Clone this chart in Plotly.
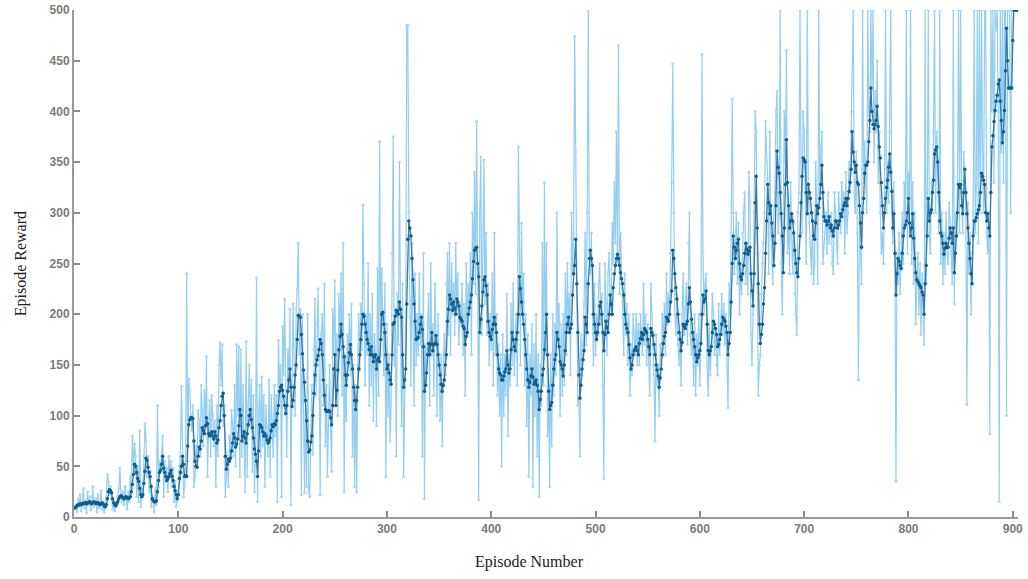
import plotly.graph_objects as go

# Episode reward (raw), one value per episode, read/
episode_reward = [
    8,12,5,18,10,22,6,15,28,9,
    16,4,25,12,20,7,14,30,10,13,
    18,5,22,9,15,26,8,12,5,11,
    20,42,35,22,30,18,8,12,6,15,
    10,20,28,48,22,15,25,12,30,18,
    8,25,15,40,28,80,45,72,60,20,
    50,15,85,10,30,20,60,92,75,40,
    60,25,45,10,15,20,5,28,12,110,
    30,55,45,60,80,20,55,35,48,25,
    60,40,55,30,48,15,35,10,20,25,
    45,60,129,50,20,30,45,240,55,136,
    125,100,85,110,30,40,70,50,105,95,
    60,130,100,70,125,90,158,40,85,115,
    60,120,100,70,95,30,110,60,150,172,
    130,170,90,110,20,45,60,30,80,60,
    105,90,60,130,50,170,100,168,40,165,
    60,130,85,25,173,40,110,150,90,135,
    45,120,25,60,236,15,100,130,60,138,
    70,120,30,110,85,60,135,40,120,95,
    60,130,80,120,15,174,130,150,20,188,
    140,215,100,60,165,130,205,12,130,210,
    150,100,205,225,270,160,205,22,200,120,
    24,115,30,200,25,20,90,130,62,165,
    215,120,190,225,150,22,180,200,110,230,
    70,130,40,100,150,90,45,205,160,233,
    130,180,100,220,170,240,120,270,25,160,
    95,180,150,200,140,210,60,150,30,130,
    25,150,200,145,210,165,308,230,130,200,
    160,250,110,200,130,220,95,180,160,90,
    245,120,370,160,245,200,140,230,40,190,
    100,160,75,110,260,375,150,200,60,220,
    170,350,200,90,230,40,110,160,485,485,
    300,210,130,270,190,110,240,150,200,160,
    240,170,200,60,260,18,170,130,190,220,
    110,250,160,190,120,230,180,100,200,130,
    95,160,70,150,180,140,230,260,180,270,
    160,250,200,230,180,270,200,240,170,210,
    190,230,160,210,120,250,180,230,200,260,
    160,300,230,340,220,390,240,17,300,355,
    180,260,352,210,280,180,230,150,200,165,
    240,130,280,160,200,120,170,100,160,50,
    180,100,160,120,220,80,160,130,210,150,
    230,140,180,200,130,365,280,150,290,200,
    240,130,200,90,180,40,160,120,190,30,
    170,100,200,60,160,20,150,110,270,130,
    330,160,270,80,130,30,160,70,200,120,
    190,140,300,170,210,100,190,120,200,130,
    240,160,250,190,220,140,300,240,280,474,
    360,250,110,120,60,180,140,170,210,280,
    170,300,500,260,240,280,200,150,230,160,
    200,180,230,250,190,220,130,38,250,210,
    160,240,260,220,200,290,250,330,270,380,
    250,465,220,280,230,200,160,240,180,210,
    150,200,120,170,140,200,180,160,200,150,
    190,150,200,180,160,230,170,200,150,190,
    160,120,230,200,150,140,75,180,130,150,
    100,170,150,200,170,210,160,240,190,220,
    200,260,330,447,300,200,180,220,170,150,
    180,130,200,240,180,200,230,170,270,300,
    180,160,190,130,200,120,180,150,200,130,
    180,456,260,200,230,240,150,120,190,140,
    170,220,200,160,180,150,140,210,160,190,
    220,180,210,170,200,150,108,230,200,280,
    412,300,240,260,300,230,290,200,250,220,
    280,300,320,230,270,220,340,310,180,150,
    200,300,400,380,260,120,150,160,220,250,
    270,300,390,350,330,240,380,280,250,230,
    300,320,400,420,280,300,500,250,200,320,
    400,350,460,260,300,240,330,280,240,290,
    220,200,180,300,320,500,350,280,400,380,
    320,250,500,330,290,270,240,300,230,250,
    350,300,230,500,320,360,380,250,270,280,
    300,260,320,270,280,300,250,240,320,300,
    270,250,320,300,280,330,300,320,260,340,
    280,300,350,320,380,400,500,320,300,360,
    280,135,300,270,230,500,330,370,320,300,
    500,400,380,500,420,500,350,420,380,450,
    330,380,300,260,280,250,320,500,300,350,
    310,380,500,300,270,330,250,35,260,230,
    280,220,270,300,250,330,290,500,260,340,
    280,500,250,330,230,300,190,240,260,200,
    250,180,240,200,170,500,230,300,500,280,
    260,330,300,380,500,300,380,350,280,500,
    250,300,230,280,240,300,260,250,310,290,
    260,230,500,210,300,280,330,500,280,500,
    320,280,360,330,300,111,310,240,280,200,
    260,300,500,280,330,500,270,500,300,500,
    360,300,500,500,280,260,300,82,500,400,
    500,330,500,480,500,400,15,500,360,500,
    330,500,500,100,500,500,500,300,500,500,
    500,500,500,500,500,
]

# Average reward, one value per episode, read/
average_reward = [
    9,10,11,12,12,13,12,13,13,14,
    14,13,14,14,15,14,13,14,15,14,
    13,14,14,13,12,13,14,13,11,10,
    12,18,25,27,26,24,18,14,12,11,
    13,15,18,20,21,20,19,18,19,20,
    19,18,19,20,25,32,42,52,50,44,
    38,35,28,22,20,22,33,45,58,56,
    49,44,40,30,18,16,15,15,16,25,
    36,44,46,52,60,48,44,40,36,38,
    40,43,46,40,36,30,26,22,18,22,
    38,44,50,60,52,40,41,40,70,91,
    96,98,98,97,75,55,50,49,60,69,
    67,75,88,85,82,90,98,92,82,80,
    82,84,80,77,84,80,73,76,88,95,
    110,119,122,100,60,47,52,57,55,58,
    65,73,82,78,69,72,77,90,106,100,
    75,80,84,78,73,82,91,100,106,96,
    88,78,67,62,55,40,65,91,90,88,
    84,80,82,80,76,73,75,78,85,91,
    89,92,91,95,102,110,124,128,130,125,
    119,110,102,110,124,135,146,128,109,115,
    128,140,150,175,199,198,197,180,161,145,
    133,115,95,75,64,66,74,80,100,122,
    140,150,155,159,165,175,171,160,135,120,
    106,104,104,105,104,98,91,110,146,160,
    110,125,145,165,178,190,180,168,158,140,
    130,140,152,162,170,160,146,128,115,106,
    115,128,146,160,175,190,200,198,190,182,
    175,171,165,160,168,160,153,158,160,146,
    155,157,153,175,200,202,190,182,160,146,
    150,142,135,131,160,190,192,198,204,202,
    200,212,205,197,160,128,135,146,210,274,
    292,285,277,255,234,210,193,175,176,177,
    182,190,197,185,168,124,130,142,160,171,
    160,170,182,164,170,171,179,170,160,150,
    140,131,124,130,135,150,160,193,205,219,
    215,210,204,212,206,200,215,212,208,197,
    195,193,188,186,170,178,182,200,206,212,
    219,235,252,263,265,266,250,237,182,195,
    208,222,234,237,228,219,193,182,178,175,
    185,190,197,190,182,160,146,142,140,135,
    135,139,143,146,164,150,142,146,165,182,
    175,168,164,175,182,200,237,225,212,200,
    190,175,160,146,135,128,133,139,146,138,
    131,133,135,130,124,106,116,124,140,146,
    165,182,200,160,124,106,110,113,130,146,
    155,160,182,175,168,153,150,146,139,150,
    164,182,190,197,182,186,190,219,240,248,
    274,230,182,140,117,130,146,155,164,197,
    190,182,230,255,263,255,248,200,190,182,
    175,182,190,208,212,200,182,164,180,193,
    187,182,200,219,210,200,226,240,248,255,
    259,255,248,241,235,230,219,200,190,186,
    182,170,157,146,150,160,164,166,168,164,
    160,171,176,182,175,180,186,184,182,175,
    168,160,186,182,179,170,160,150,145,139,
    128,137,146,160,171,178,182,197,195,193,
    200,212,223,263,255,240,226,215,200,182,
    175,164,172,190,188,186,190,193,210,226,
    212,195,182,175,168,160,153,157,160,164,
    171,200,219,212,215,223,190,164,160,164,
    168,182,193,190,186,180,168,170,175,180,
    190,197,195,193,188,182,160,171,182,212,
    250,277,266,255,263,270,274,250,237,234,
    240,248,260,270,264,259,262,266,240,223,
    208,240,310,336,285,230,190,171,180,190,
    210,226,260,292,328,310,299,307,290,277,
    248,270,307,361,345,339,320,299,277,241,
    285,328,372,330,307,285,292,299,292,280,
    263,250,241,237,255,277,310,336,354,352,
    350,320,299,328,320,314,300,292,277,274,
    290,307,299,305,314,328,347,320,296,292,
    292,288,292,296,285,288,282,277,285,292,
    292,285,288,292,299,296,303,307,310,314,
    307,314,321,330,343,380,360,350,340,347,
    330,328,307,290,266,300,314,339,347,347,
    350,370,391,423,400,387,383,387,391,405,
    385,365,354,330,307,285,300,314,325,332,
    345,358,340,321,285,299,260,219,240,255,
    252,248,245,260,277,285,288,292,300,314,
    290,277,285,299,275,255,241,234,232,230,
    228,226,222,219,200,230,248,277,314,292,
    300,303,320,332,358,362,365,350,320,292,
    280,277,270,259,265,270,266,266,275,285,
    280,270,285,241,260,277,300,328,325,328,
    307,299,320,343,320,299,285,270,255,240,
    230,277,292,292,295,299,303,307,320,339,
    336,332,328,300,292,299,285,277,320,365,
    376,390,401,410,416,427,431,410,391,369,
    380,401,440,482,450,423,423,423,423,470,
    500,500,500,500,500,
]

x_title = "Episode Number"
y_title = "Episode Reward"
x_ticks = [0, 100, 200, 300, 400, 500, 600, 700, 800, 900]
y_ticks = [0, 50, 100, 150, 200, 250, 300, 350, 400, 450, 500]

episodes_raw = list(range(1, len(episode_reward) + 1))
episodes_avg = list(range(1, len(average_reward) + 1))

fig = go.Figure()
fig.add_trace(go.Scatter(
    x=episodes_raw, y=episode_reward, mode="lines+markers",
    line=dict(color="#93cdef", width=1.2),
    marker=dict(color="#a9d8f2", size=3, line=dict(width=0)),
    name="Episode Reward", showlegend=False, cliponaxis=True,
))
fig.add_trace(go.Scatter(
    x=episodes_avg, y=average_reward, mode="lines+markers",
    line=dict(color="#3a79a6", width=1.3),
    marker=dict(color="#0f5e8e", size=3.5, line=dict(width=0)),
    name="Average Reward", showlegend=False,
))

axis_common = dict(
    showgrid=False, zeroline=False, showline=True, automargin=False,
    linecolor="#9a9a9a", linewidth=2,
    ticks="inside", ticklen=6, tickwidth=1.5, tickcolor="#8a8a8a",
    tickfont=dict(family="Arial, Liberation Sans, sans-serif", size=12,
                  color="#7a7a7a", weight="bold"),
)
fig.update_xaxes(range=[0, 905], tickvals=x_ticks, **axis_common)
fig.update_yaxes(range=[0, 500], tickvals=y_ticks, **axis_common)

fig.add_annotation(text=x_title, xref="paper", yref="paper", x=0.482, y=-0.068,
                   yanchor="top", showarrow=False,
                   font=dict(family="Liberation Serif, Times New Roman, serif",
                             size=16, color="#222"))
fig.add_annotation(text=y_title, xref="paper", yref="paper", x=-0.068, y=0.5,
                   textangle=-90, showarrow=False,
                   font=dict(family="Liberation Serif, Times New Roman, serif",
                             size=16, color="#222"))

fig.update_layout(
    width=1028, height=579,
    margin=dict(l=74, r=10, t=10, b=62, autoexpand=False),
    plot_bgcolor="white", paper_bgcolor="white",
)

fig.write_html("out.html")
